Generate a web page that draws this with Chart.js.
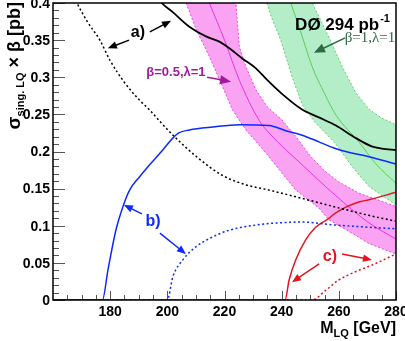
<!DOCTYPE html>
<html>
<head>
<meta charset="utf-8">
<script src="https://cdn.jsdelivr.net/npm/chart.js@4.4.1/dist/chart.umd.min.js"></script>
<style>
  html, body { margin: 0; padding: 0; background: #fff; }
  #wrap { width: 405px; height: 341px; }
</style>
</head>
<body>
<div id="wrap"><canvas id="chart"></canvas></div>
<script>
// curves, [M_LQ GeV, sigma*beta pb]
const aSolid = [[195,0.415],[198,0.4],[201.8,0.388],[207.7,0.368],[213.5,0.355],[218.2,0.348],[221.7,0.339],
  [226.3,0.325],[231,0.312],[235,0.296],[240,0.278],[247,0.257],[253,0.246],[259,0.235],[266,0.218],
  [271.5,0.207],[275,0.204],[280,0.202]];
const aDotted = [[166,0.42],[168.4,0.4],[172,0.375],[176.4,0.35],[179.9,0.323],[185,0.293],[190.3,0.269],
  [193.8,0.256],[198,0.238],[202.5,0.22],[210.2,0.193],[219.2,0.168],[227.6,0.155],[235.6,0.148],
  [247,0.137],[259,0.125],[270.5,0.114],[280,0.106]];
const bSolid = [[160,0],[177.3,0],[179.2,0.04],[182,0.094],[184.4,0.125],[186.8,0.148],[190.3,0.166],
  [193.8,0.182],[198.4,0.202],[201.9,0.218],[204,0.225],[207.7,0.229],[215.9,0.233],[225.2,0.236],
  [235.6,0.235],[241.4,0.228],[247.2,0.222],[253,0.213],[258.8,0.204],[264.5,0.198],[270.5,0.193],[280,0.183]];
const bDotted = [[160,0],[200,0],[201.9,0.031],[205.4,0.054],[210.1,0.072],[215.9,0.085],[221.7,0.094],
  [231,0.101],[235.6,0.103],[247,0.105],[258.8,0.101],[270.5,0.098],[280,0.096]];
const cSolid = [[160,0],[241.2,0],[242.6,0.027],[244.9,0.054],[248.4,0.081],[251.9,0.098],[256.5,0.11],
  [258.8,0.117],[263,0.126],[267,0.132],[270.5,0.135],[280,0.145]];
const cDotted = [[160,0],[250.6,0],[255.4,0.013],[260,0.027],[265.8,0.038],[271.6,0.047],[280,0.062]];

// theory bands: beta=0.5 (magenta) and beta=1 (green)
const magCenter = [[214.7,0.4],[220,0.35],[225.2,0.296],[232.1,0.242],[235.6,0.225],[247.2,0.182],
  [258.8,0.141],[270.5,0.104],[280,0.082]];
const magLow = [[206.6,0.4],[210,0.365],[214.7,0.328],[218.8,0.292],[222.8,0.256],[227.5,0.229],
  [234.5,0.198],[244.9,0.148],[253,0.124],[256.5,0.108],[264.6,0.09],[270.5,0.076],[280,0.062]];
const magHigh = [[224,0.4],[225.2,0.341],[227.5,0.314],[231,0.283],[235,0.26],[240,0.243],[245,0.22],
  [250,0.194],[255,0.174],[260,0.159],[267,0.144],[280,0.126]];
const greenCenter = [[243.2,0.4],[247,0.357],[250.7,0.314],[255,0.278],[259,0.249],[267,0.213],
  [272.8,0.184],[280,0.157]];
const greenLow = [[234.8,0.4],[236.5,0.38],[239.7,0.35],[243.7,0.3],[247.2,0.263],[251.5,0.24],
  [258.8,0.211],[264.6,0.18],[270.5,0.153],[280,0.128]];
const greenHigh = [[250.7,0.4],[255.9,0.359],[261.2,0.314],[265.8,0.28],[270.5,0.257],[275,0.245],[280,0.236]];

const yTicks = [0, 0.05, 0.1, 0.15, 0.2, 0.25, 0.3, 0.35, 0.4];
const yTickLabels = ['0', '0.05', '0.1', '0.15', '0.2', '0.25', '0.3', '0.35', '0.4'];
const xTicks = [180, 200, 220, 240, 260, 280];

const FONT = "'Liberation Sans', Arial, sans-serif";
const SERIF = "'Liberation Serif', 'Times New Roman', serif";
const BLUE = '#0a2aff', RED = '#e3141e', PURPLE = '#a3199c', DKGREEN = '#2d6a45';

const pts = arr => arr.map(p => ({ x: p[0], y: p[1] }));
const band = (low, high) => pts(low.concat(high.slice().reverse()));

const curve = (data, color, width, dash, order) => ({
  data: pts(data), borderColor: color, borderWidth: width, borderDash: dash || [],
  showLine: true, pointRadius: 0, cubicInterpolationMode: 'monotone', fill: false, clip: 0, order: order
});
const shade = (low, high, fillCol, edgeCol) => ({
  data: band(low, high), borderColor: edgeCol, backgroundColor: fillCol, borderWidth: 1,
  borderDash: [2, 2], showLine: true, pointRadius: 0, tension: 0, fill: 'shape', clip: 0, order: 10
});

// text + arrow annotations, in data units
const notes = [
  { text: 'a)', x: 189.7, y: 0.36, color: '#000', font: 'bold 16px ' + FONT },
  { text: 'b)', x: 195, y: 0.106, color: BLUE, font: 'bold 16px ' + FONT },
  { text: 'c)', x: 256.9, y: 0.058, color: RED, font: 'bold 16px ' + FONT },
  { text: 'β=0.5,λ=1', x: 203, y: 0.307, color: PURPLE, font: 'bold 13px ' + FONT },
  { text: 'β=1,λ=1', x: 270.9, y: 0.353, color: DKGREEN, font: '15px ' + SERIF }
];
const arrows = [
  { from: [186.6, 0.35], to: [179.2, 0.339], color: '#000' },
  { from: [193.9, 0.361], to: [201.3, 0.376], color: '#000' },
  { from: [191.1, 0.116], to: [184.8, 0.128], color: BLUE },
  { from: [197.4, 0.09], to: [206.5, 0.062], color: BLUE },
  { from: [253.1, 0.0485], to: [243.6, 0.024], color: RED },
  { from: [261.1, 0.062], to: [271.6, 0.054], color: RED },
  { from: [213.9, 0.3], to: [222.3, 0.294], color: PURPLE, head: 11 },
  { from: [262.2, 0.353], to: [251.3, 0.333], color: DKGREEN, head: 11 }
];

function drawArrow(ctx, x1, y1, x2, y2, color, head) {
  const ang = Math.atan2(y2 - y1, x2 - x1);
  const h = head || 9, w = h * 0.42;
  ctx.strokeStyle = color; ctx.fillStyle = color; ctx.lineWidth = 1.5;
  ctx.beginPath();
  ctx.moveTo(x1, y1);
  ctx.lineTo(x2 - Math.cos(ang) * h * 0.8, y2 - Math.sin(ang) * h * 0.8);
  ctx.stroke();
  ctx.beginPath();
  ctx.moveTo(x2, y2);
  ctx.lineTo(x2 - h * Math.cos(ang) + w * Math.sin(ang), y2 - h * Math.sin(ang) - w * Math.cos(ang));
  ctx.lineTo(x2 - h * Math.cos(ang) - w * Math.sin(ang), y2 - h * Math.sin(ang) + w * Math.cos(ang));
  ctx.closePath();
  ctx.fill();
}

const decor = {
  id: 'decor',
  afterDatasetsDraw(chart) {
    const { ctx, chartArea: a, scales: { x, y } } = chart;
    ctx.save();

    // annotations
    notes.forEach(n => {
      ctx.font = n.font; ctx.fillStyle = n.color;
      ctx.textAlign = 'center'; ctx.textBaseline = 'middle';
      ctx.fillText(n.text, x.getPixelForValue(n.x), y.getPixelForValue(n.y));
    });
    arrows.forEach(r => drawArrow(ctx, x.getPixelForValue(r.from[0]), y.getPixelForValue(r.from[1]),
      x.getPixelForValue(r.to[0]), y.getPixelForValue(r.to[1]), r.color, r.head));

    // experiment label
    ctx.fillStyle = '#000'; ctx.textAlign = 'left'; ctx.textBaseline = 'alphabetic';
    ctx.font = 'bold 17px ' + FONT;
    const lx = x.getPixelForValue(244.7), ly = y.getPixelForValue(0.3636);
    const main = 'DØ 294 pb';
    ctx.fillText(main, lx, ly);
    const mw = ctx.measureText(main).width;
    ctx.font = 'bold 11px ' + FONT;
    ctx.fillText('-1', lx + mw + 1, ly - 8);

    // ticks (inside)
    ctx.strokeStyle = '#555'; ctx.lineWidth = 1;
    for (let i = 0; i <= 40; i++) {
      const py = Math.round(y.getPixelForValue(i / 100)) + 0.5;
      const len = i % 5 === 0 ? 12 : 6;
      ctx.beginPath(); ctx.moveTo(a.left, py); ctx.lineTo(a.left + len, py); ctx.stroke();
    }
    for (let v = 165; v <= 280; v += 5) {
      const px = Math.round(x.getPixelForValue(v)) + 0.5;
      const len = v % 20 === 0 ? 9 : 5;
      ctx.beginPath(); ctx.moveTo(px, a.bottom); ctx.lineTo(px, a.bottom - len); ctx.stroke();
    }

    // frame
    ctx.strokeStyle = '#000'; ctx.lineWidth = 1.5;
    ctx.strokeRect(a.left, a.top, a.right - a.left, a.bottom - a.top);

    // tick labels
    ctx.fillStyle = '#000'; ctx.font = 'bold 14px ' + FONT;
    ctx.textAlign = 'right'; ctx.textBaseline = 'middle';
    yTicks.forEach((v, i) => ctx.fillText(yTickLabels[i], a.left - 3, y.getPixelForValue(v) + 1));
    ctx.textAlign = 'center'; ctx.textBaseline = 'top';
    xTicks.forEach(v => ctx.fillText(String(v), x.getPixelForValue(v), a.bottom + 5));

    // x title
    ctx.textBaseline = 'alphabetic'; ctx.textAlign = 'left';
    const parts = [['M', 'bold 16px ', 0], ['LQ', 'bold 11px ', 4], [' [GeV]', 'bold 16px ', 0]];
    let tw = 0;
    parts.forEach(p => { ctx.font = p[1] + FONT; tw += ctx.measureText(p[0]).width; });
    let cx = a.right - tw;
    parts.forEach(p => { ctx.font = p[1] + FONT; ctx.fillText(p[0], cx, 333 + p[2]); cx += ctx.measureText(p[0]).width; });

    // y title (rotated)
    ctx.translate(20, a.top - 1);
    ctx.rotate(-Math.PI / 2);
    const yparts = [['σ', 'bold 19px ', 0], ['sing. LQ', 'bold 11px ', 4], [' × β [pb]', 'bold 18px ', 0]];
    tw = 0;
    yparts.forEach(p => { ctx.font = p[1] + FONT; tw += ctx.measureText(p[0]).width; });
    cx = -tw;
    yparts.forEach(p => { ctx.font = p[1] + FONT; ctx.fillText(p[0], cx, p[2]); cx += ctx.measureText(p[0]).width; });

    ctx.restore();
  }
};

new Chart(document.getElementById('chart'), {
  type: 'scatter',
  data: {
    datasets: [
      curve(aSolid, '#000', 1.8, [], 1),
      curve(aDotted, '#000', 1.5, [2, 2.5], 1),
      curve(bSolid, BLUE, 1.5, [], 1),
      curve(bDotted, BLUE, 1.5, [2, 2.5], 1),
      curve(cSolid, RED, 1.5, [], 1),
      curve(cDotted, RED, 1.5, [2, 2.5], 1),
      curve(magCenter, '#f030e0', 1, [], 5),
      curve(greenCenter, '#5ccc5c', 1, [], 5),
      shade(magLow, magHigh, '#f9a3f2', '#ee44dd'),
      shade(greenLow, greenHigh, '#b4eec9', '#66cc66')
    ]
  },
  options: {
    responsive: true,
    maintainAspectRatio: false,
    animation: false,
    layout: { padding: { left: 53, top: 3, right: 9, bottom: 41 } },
    plugins: { legend: { display: false }, tooltip: { enabled: false } },
    scales: {
      x: { type: 'linear', display: false, min: 160, max: 280 },
      y: { type: 'linear', display: false, min: 0, max: 0.4 }
    }
  },
  plugins: [decor]
});
</script>
</body>
</html>
